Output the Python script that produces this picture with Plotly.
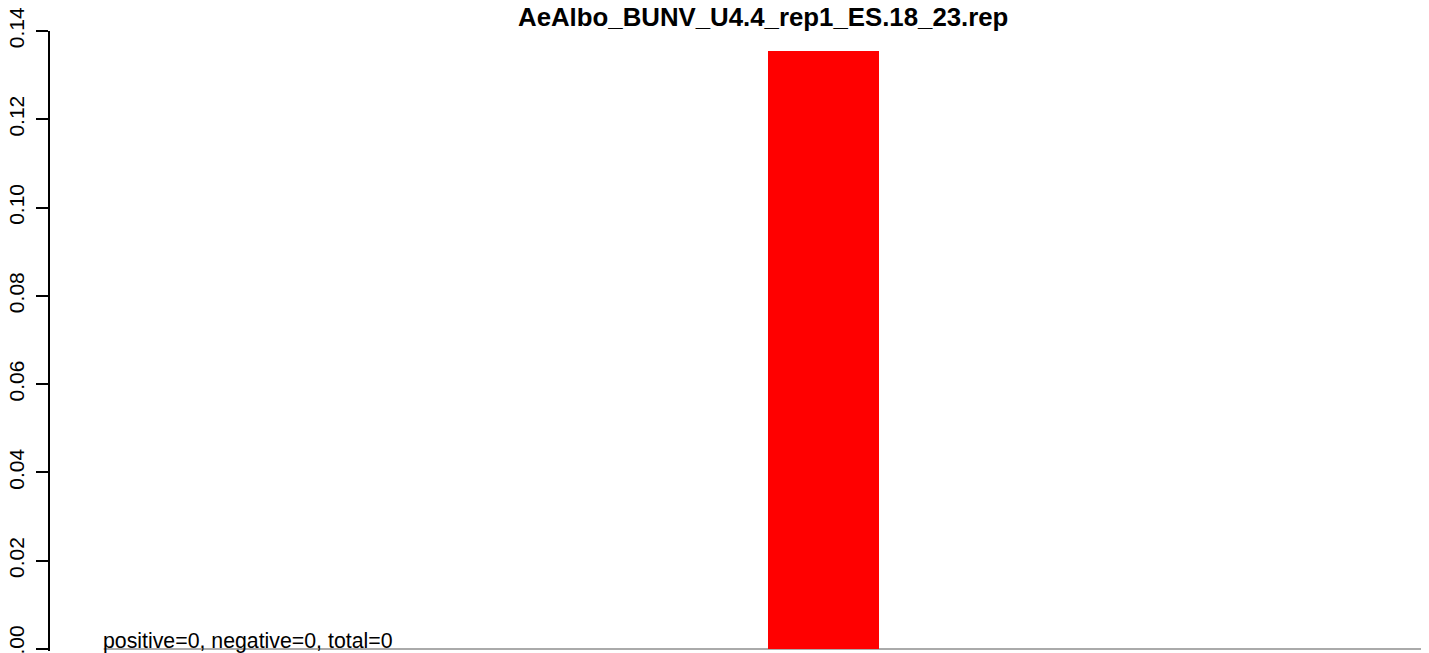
import plotly.graph_objects as go

# Data
bar_index = [1, 2, 3, 4, 5, 6, 7, 8, 9, 10]
values = [0, 0, 0, 0, 0, 0.1355, 0, 0, 0, 0]
title = "AeAlbo_BUNV_U4.4_rep1_ES.18_23.rep"
note = "positive=0, negative=0, total=0"
y_ticks = [0, 0.02, 0.04, 0.06, 0.08, 0.10, 0.12, 0.14]

# R barplot-like positions: width 1, space 0.2
centers = [0.7 + 1.2 * (i - 1) for i in bar_index]

fig = go.Figure()
fig.add_trace(go.Bar(
    x=centers, y=values, width=[1.0] * len(centers),
    marker=dict(color="#FF0000", line=dict(width=0)),
    showlegend=False, hoverinfo="y",
))

px_per_unit = 0.14 / 618
fig.update_layout(
    width=1421, height=645,
    margin=dict(l=42, r=0, t=23, b=2, autoexpand=False),
    paper_bgcolor="white", plot_bgcolor="white",
    font=dict(family="Liberation Sans, Arial, sans-serif", size=21, color="black"),
    bargap=0,
    xaxis=dict(range=[-0.285, 12.172], showgrid=False, zeroline=False,
               showticklabels=False, ticks="", showline=False, fixedrange=True,
               automargin=False),
    yaxis=dict(range=[-2 * px_per_unit, 0.14], showgrid=False, zeroline=False,
               tickvals=y_ticks, tickformat=".2f", ticks="outside", ticklen=12,
               tickwidth=2, tickcolor="black", showline=True, linewidth=2,
               linecolor="black", tickangle=-90, ticklabelstandoff=4,
               automargin=False, ticklabeloverflow="allow",
               tickfont=dict(size=21, color="black")),
)

# baseline under the bars
fig.add_shape(type="line", xref="x", yref="y", x0=centers[0] - 0.5, x1=12.172,
              y0=0, y1=0, line=dict(color="#AAAAAA", width=2), layer="below")

fig.add_annotation(text="<b>" + title + "</b>", xref="paper", yref="paper",
                   x=0.517, y=1.0243, xanchor="center", yanchor="middle",
                   yshift=-1, showarrow=False, font=dict(size=25.8, color="black"))
fig.add_annotation(text=note, xref="x", yref="y", x=centers[0] - 0.5, y=0,
                   xanchor="left", yanchor="bottom", yshift=-6, xshift=-3,
                   showarrow=False, font=dict(size=21.3, color="black"))

fig.write_html("out.html")
